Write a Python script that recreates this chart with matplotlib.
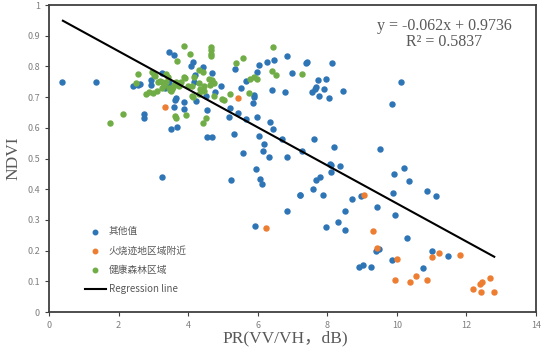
import numpy as np
import matplotlib
matplotlib.use("Agg")
from matplotlib import pyplot as plt

# ---- data ----
blue_x = [0.38, 1.36, 2.42, 2.57, 2.63, 2.73, 2.74, 2.92, 2.94, 3.26, 3.44, 3.33, 3.45, 3.59,
          3.62, 3.64, 3.59, 3.88, 3.88, 3.50, 3.67, 4.13, 4.07, 4.43, 4.20, 4.70, 4.18, 4.95,
          4.76, 4.50, 4.24, 4.55, 5.34, 5.51, 5.66, 5.99, 6.03, 6.26, 6.47, 6.83, 7.00, 5.89,
          5.89, 5.87, 6.42, 6.79, 5.20, 5.18, 5.44, 5.65, 5.97, 6.35, 6.45, 4.53, 4.70, 5.32,
          6.03, 6.19, 6.16, 5.58, 6.32, 6.71, 6.83, 5.95, 5.22, 6.07, 6.11, 7.21, 6.83, 5.92,
          3.26, 7.40, 7.43, 8.15, 7.72, 7.96, 7.67, 7.65, 7.56, 7.75, 7.91, 8.05, 8.46, 10.11,
          9.86, 7.61, 8.19, 9.53, 7.26, 8.07, 8.12, 8.36, 8.10, 7.80, 7.67, 9.91, 10.20, 10.35,
          7.58, 7.23, 7.89, 8.72, 8.96, 9.89, 9.42, 8.51, 9.94, 8.32, 7.96, 8.50, 10.30, 9.40,
          9.49, 9.86, 8.91, 9.02, 9.25, 10.88, 11.12, 11.01, 11.46, 10.76]
blue_y = [0.750, 0.750, 0.736, 0.740, 0.743, 0.645, 0.631, 0.755, 0.740, 0.777, 0.745, 0.729,
          0.846, 0.836, 0.690, 0.697, 0.669, 0.685, 0.661, 0.597, 0.602, 0.813, 0.801, 0.797,
          0.772, 0.777, 0.750, 0.736, 0.718, 0.704, 0.688, 0.658, 0.791, 0.729, 0.751, 0.783,
          0.806, 0.816, 0.821, 0.833, 0.777, 0.707, 0.699, 0.682, 0.722, 0.717, 0.663, 0.634,
          0.649, 0.628, 0.634, 0.620, 0.596, 0.569, 0.569, 0.579, 0.574, 0.546, 0.524, 0.517,
          0.506, 0.562, 0.506, 0.465, 0.430, 0.432, 0.416, 0.380, 0.330, 0.281, 0.441, 0.810,
          0.813, 0.811, 0.757, 0.760, 0.734, 0.728, 0.717, 0.704, 0.725, 0.697, 0.721, 0.748,
          0.677, 0.565, 0.536, 0.531, 0.524, 0.482, 0.479, 0.476, 0.457, 0.440, 0.430, 0.450,
          0.468, 0.427, 0.400, 0.381, 0.381, 0.367, 0.378, 0.388, 0.342, 0.330, 0.315, 0.294,
          0.277, 0.267, 0.240, 0.200, 0.205, 0.169, 0.148, 0.153, 0.147, 0.394, 0.378, 0.199,
          0.183, 0.144]

orange_x = [3.34, 5.43, 6.24, 9.05, 9.32, 9.43, 10.00, 10.55, 9.95, 10.38, 11.01, 11.22,
            11.82, 10.88, 12.19, 12.39, 12.45, 12.69, 12.43, 12.80]
orange_y = [0.668, 0.696, 0.274, 0.380, 0.264, 0.207, 0.173, 0.117, 0.103, 0.097, 0.180, 0.193,
            0.186, 0.103, 0.076, 0.092, 0.098, 0.112, 0.066, 0.065]

green_x = [1.75, 2.13, 2.50, 2.56, 2.78, 2.87, 3.00, 2.95, 3.02, 3.05, 3.20, 3.35, 3.37, 3.41,
           3.45, 3.50, 3.55, 3.66, 3.63, 3.69, 3.87, 4.04, 4.65, 4.65, 4.65, 4.65, 4.32, 4.42,
           3.87, 3.91, 4.18, 4.60, 4.68, 4.75, 4.62, 4.70, 4.00, 4.10, 4.30, 4.45, 4.35, 4.45,
           4.30, 4.10, 4.13, 4.75, 4.96, 5.03, 5.20, 5.74, 5.39, 5.58, 5.78, 5.90, 5.99, 6.45,
           6.42, 6.52, 7.26, 3.94, 4.51, 4.42, 3.60, 3.75, 3.80, 3.25, 3.10, 3.14, 3.24, 3.32,
           3.48, 3.57, 3.64]
green_y = [0.615, 0.644, 0.745, 0.775, 0.710, 0.718, 0.714, 0.782, 0.771, 0.770, 0.752, 0.750,
           0.775, 0.764, 0.730, 0.720, 0.725, 0.633, 0.640, 0.818, 0.866, 0.839, 0.862, 0.855,
           0.840, 0.833, 0.787, 0.782, 0.766, 0.761, 0.765, 0.760, 0.750, 0.745, 0.740, 0.755,
           0.737, 0.737, 0.745, 0.735, 0.725, 0.720, 0.710, 0.705, 0.700, 0.705, 0.693, 0.689,
           0.710, 0.712, 0.810, 0.827, 0.760, 0.765, 0.758, 0.862, 0.785, 0.772, 0.774, 0.642,
           0.631, 0.617, 0.740, 0.735, 0.750, 0.730, 0.720, 0.748, 0.750, 0.738, 0.724, 0.733,
           0.749]

slope = -0.062
intercept = 0.9736
line_x = [0.4, 12.8]

legend_labels = ["其他值", "火烧迹地区域附近", "健康森林区域", "Regression line"]
colors = ["#2e75b6", "#ed7d31", "#70ad47"]

plt.rcParams['font.family'] = ['Noto Sans CJK SC', 'DejaVu Sans']

fig = plt.figure(figsize=(5.54, 3.48), dpi=100)
ax = fig.add_axes([0.0884, 0.1034, 0.8791, 0.8822])

ax.scatter(blue_x, blue_y, s=13, color=colors[0], label=legend_labels[0], zorder=3)
ax.scatter(orange_x, orange_y, s=13, color=colors[1], label=legend_labels[1], zorder=3)
ax.scatter(green_x, green_y, s=13, color=colors[2], label=legend_labels[2], zorder=3)
line_y = [slope * v + intercept for v in line_x]
ax.plot(line_x, line_y, color="black", lw=1.5, label=legend_labels[3], zorder=4)

ax.set_xlim(0, 14)
ax.set_ylim(0, 1)
ax.set_xticks(np.arange(0, 15, 2))
ax.set_yticks(np.round(np.arange(0, 1.01, 0.1), 1))
ax.set_yticklabels(["0", "0.1", "0.2", "0.3", "0.4", "0.5", "0.6", "0.7", "0.8", "0.9", "1"])
ax.tick_params(axis="both", colors="#404040", labelcolor="#7f7f7f", labelsize=6.5,
               length=3, width=0.8)
for sp in ax.spines.values():
    sp.set_color("#404040")
    sp.set_linewidth(1.3)

serif = ['Liberation Serif', 'Noto Sans CJK SC']
ax.set_xlabel("PR(VV/VH，dB)", family=serif, fontsize=12.5, color="#595959")
ax.xaxis.set_label_coords(0.485, -0.06)
ax.set_ylabel("NDVI", family=serif, fontsize=12.5, color="#595959", labelpad=4)

ax.text(0.811, 0.905, "y = -0.062x + 0.9736\nR² = 0.5837", transform=ax.transAxes,
        family=serif, fontsize=11.5, color="#595959", ha="center", va="center",
        linespacing=1.05)

leg = ax.legend(loc="lower left", bbox_to_anchor=(0.055, 0.03), frameon=False,
                fontsize=7, handlelength=2.2, labelspacing=0.95, handletextpad=0.3,
                markerscale=0.9)
for t in leg.get_texts():
    t.set_color("#595959")

fig.savefig("out.png", dpi=100)
